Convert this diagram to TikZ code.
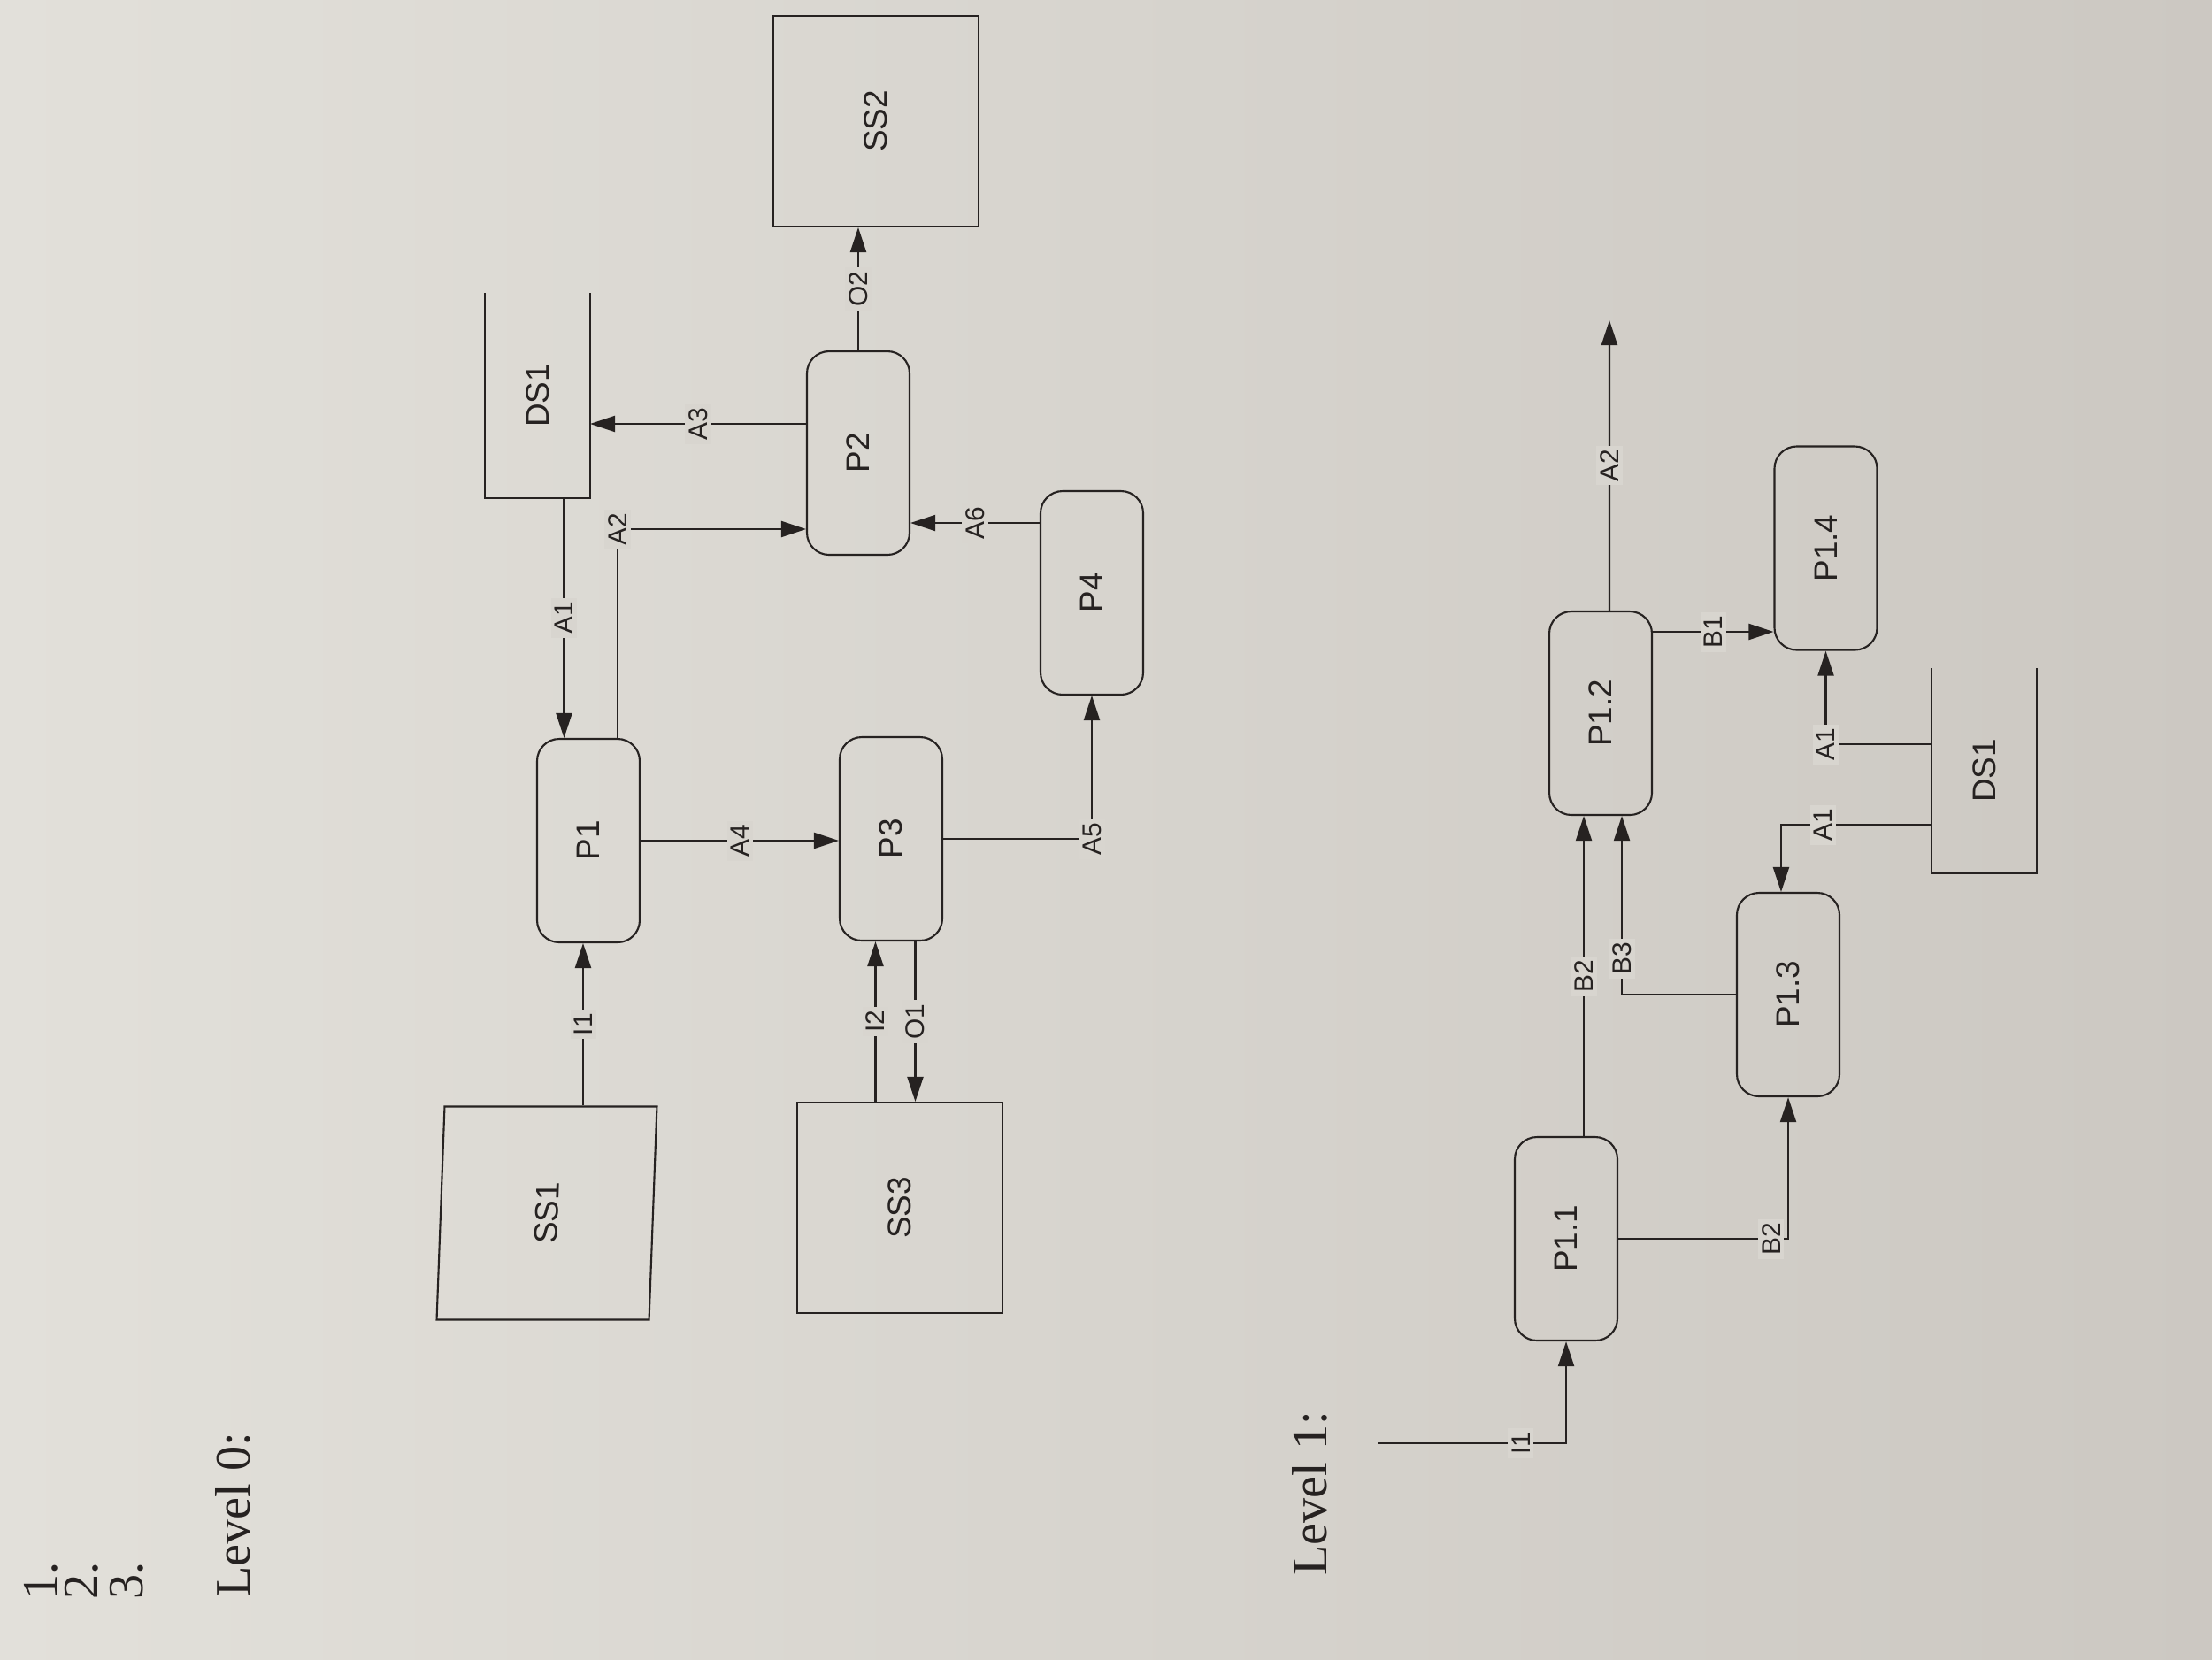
\documentclass[tikz,border=0pt]{standalone}
\usepackage{fontspec}
\setmainfont{Liberation Sans}
\newfontfamily\levelfont{Liberation Serif}
\usepackage{graphicx}
\usepackage{xcolor}
\usepackage{tikz}
\usetikzlibrary{arrows.meta,calc}
\definecolor{paper}{RGB}{216,213,207}
\definecolor{paperlight}{RGB}{226,224,218}
\definecolor{paperdark}{RGB}{204,200,194}
\definecolor{ink}{RGB}{38,34,33}

\begin{document}
\begin{tikzpicture}[>={Triangle[length=2.8mm,width=1.8mm]},color=ink,line width=0.6pt,
  proc/.style={draw,rounded corners=2.5mm,minimum width=1.16cm,minimum height=2.3cm,font=\fontsize{10.5}{12}\selectfont},
  sink/.style={draw,minimum width=2.32cm,minimum height=2.38cm,font=\fontsize{10.5}{12}\selectfont},
  store/.style={minimum width=1.17cm,minimum height=2.29cm,font=\fontsize{10.5}{12}\selectfont},
  flow/.style={fill=paper,inner sep=1.2pt,rotate=90,font=\fontsize{8.5}{9}\selectfont},
  level/.style={rotate=90,font=\levelfont\fontsize{16}{18}\selectfont}]
\useasboundingbox (0,0) rectangle (25,-18.75);
\shade[left color=paperlight,right color=paperdark] (0,0) rectangle (25,-18.75);

\node[level] (n1) at (0.46,-17.86) {1.};
\node[level] (n2) at (0.92,-17.86) {2.};
\node[level] (n3) at (1.43,-17.86) {3.};
\node[level] (lvl0) at (2.63,-17.12) {Level 0:};
\node[level] (lvl1) at (14.80,-16.88) {Level 1:};

\node[proc] (P1) at (6.65,-9.50) {\rotatebox{90}{P1}};
\node[proc] (P2) at (9.70,-5.12) {\rotatebox{90}{P2}};
\node[proc] (P3) at (10.07,-9.48) {\rotatebox{90}{P3}};
\node[proc] (P4) at (12.34,-6.70) {\rotatebox{90}{P4}};
\node[sink,minimum width=2.4cm,minimum height=2.41cm,xslant=0.037,transform shape] (SS1) at (6.18,-13.71) {\rotatebox{90}{SS1}};
\node[sink] (SS2) at (9.90,-1.37) {\rotatebox{90}{SS2}};
\node[sink] (SS3) at (10.17,-13.65) {\rotatebox{90}{SS3}};
\node[store] (DS1) at (6.075,-4.47) {\rotatebox{90}{DS1}};
\draw (DS1.north west) -- (DS1.south west) -- (DS1.south east) -- (DS1.north east);

\draw[->] ([xshift=3mm]DS1.south) -- ([xshift=3mm]DS1.south |- P1.north) node[flow,midway] {A1};
\draw[->] ([xshift=3.3mm]P1.north) |- ([yshift=-8.6mm]P2.west) node[flow,pos=0.5] {A2};
\draw[->] ([yshift=3.3mm]P2.west) -- ([yshift=3.3mm]P2.west -| DS1.east) node[flow,midway] {A3};
\draw[->] (P1.east) -- (P1.east -| P3.west) node[flow,midway] {A4};
\draw[->] (P3.east) -| (P4.south) node[flow,pos=0.5] {A5};
\draw[->] ([yshift=7.9mm]P4.west) -- ([yshift=7.9mm]P4.west -| P2.east) node[flow,midway] {A6};
\draw[->] (P2.north) -- (P2.north |- SS2.south) node[flow,midway] {O2};
\draw[->] ([xshift=-0.6mm]P1.south |- SS1.north) -- ([xshift=-0.6mm]P1.south) node[flow,midway] {I1};
\draw[->] ([xshift=-1.75mm]P3.south |- SS3.north) -- ([xshift=-1.75mm]P3.south) node[flow,midway] {I2};
\draw[->] ([xshift=2.75mm]P3.south) -- ([xshift=2.75mm]P3.south |- SS3.north) node[flow,midway] {O1};

\node[proc] (P11) at (17.70,-14.00) {\rotatebox{90}{P1.1}};
\node[proc] (P12) at (18.09,-8.06) {\rotatebox{90}{P1.2}};
\node[proc] (P13) at (20.21,-11.24) {\rotatebox{90}{P1.3}};
\node[proc] (P14) at (20.635,-6.195) {\rotatebox{90}{P1.4}};
\node[store] (DS1b) at (22.425,-8.71) {\rotatebox{90}{DS1}};
\draw (DS1b.north west) -- (DS1b.south west) -- (DS1b.south east) -- (DS1b.north east);
\coordinate (in1) at (15.57,-16.31);
\coordinate (out2) at (18.19,-3.62);

\draw[->] (in1) -| (P11.south) node[flow,pos=0.38] {I1};
\draw[->] ([xshift=2mm]P11.north) -- ([xshift=2mm]P11.north |- P12.south) node[flow,midway] {B2};
\draw[->] (P13.west) -| ([xshift=2.4mm]P12.south) node[flow,pos=0.6] {B3};
\draw[->] (P11.east) -| (P13.south) node[flow,pos=0.45] {B2};
\draw[->] ([xshift=1mm]P12.north) -- (out2) node[flow,midway] {A2};
\draw[->] ([yshift=9.2mm]P12.east) -- ([yshift=9.2mm]P12.east -| P14.west) node[flow,midway] {B1};
\draw[->] ([yshift=3mm]DS1b.west) -| (P14.south) node[flow,pos=0.5] {A1};
\draw[->] ([yshift=-6.1mm]DS1b.west) -| ([xshift=-0.8mm]P13.north) node[flow,pos=0.36] {A1};
\end{tikzpicture}
\end{document}
